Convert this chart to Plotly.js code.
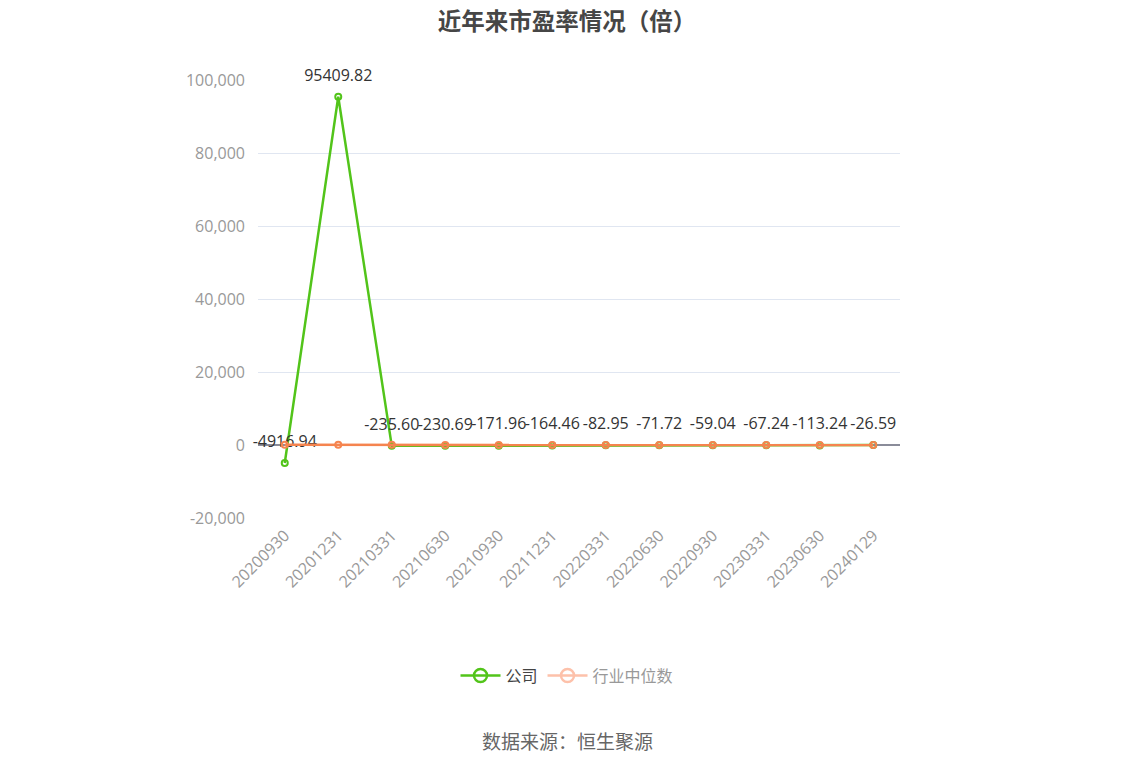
<!DOCTYPE html>
<html>
<head>
<meta charset="utf-8">
<script src="https://cdn.plot.ly/plotly-3.0.1.min.js"></script>
<style>
  html, body { margin: 0; padding: 0; background: #fff; }
  #chart { width: 1134px; height: 766px; }
</style>
</head>
<body>
<div id="chart"></div>
<script>
// dates of each report, company PE and industry median PE
const dates = ['20200930', '20201231', '20210331', '20210630', '20210930', '20211231',
               '20220331', '20220630', '20220930', '20230331', '20230630', '20240129'];
const companyPE = [-4916.94, 95409.82, -235.60, -230.69, -171.96, -164.46,
                   -82.95, -71.72, -59.04, -67.24, -113.24, -26.59];
// industry median is too small to read at this scale, estimated
const industryPE = [38.5, 45.2, 36.8, 33.1, 30.4, 29.7, 26.9, 24.3, 22.8, 24.1, 21.6, 19.8];

const yTicks = [-20000, 0, 20000, 40000, 60000, 80000, 100000];

const green = '#52C41A';
const orange = '#F5844F';
const fontFam = '"Open Sans", "Noto Sans CJK SC", sans-serif';
const cjk = '"Noto Sans CJK SC", sans-serif';
// page centre expressed in plot-area fraction (plot spans 258..900 px)
const midX = (567 - 258) / 642;

const traces = [
    {
        x: dates, y: companyPE,
        type: 'scatter', mode: 'lines+markers',
        line: { color: green, width: 2.5 },
        marker: { symbol: 'circle-open', size: 6, color: green, line: { width: 2 } },
        showlegend: false,
        hoverinfo: 'x+y'
    },
    // value labels, invisible bigger markers push text a bit higher
    {
        x: dates, y: companyPE,
        type: 'scatter', mode: 'markers+text',
        marker: { size: 18, color: 'rgba(0,0,0,0)' },
        text: companyPE.map(v => v.toFixed(2)),
        textposition: 'top center',
        textfont: { size: 16, color: '#333', family: fontFam },
        cliponaxis: false,
        showlegend: false,
        hoverinfo: 'skip'
    },
    {
        x: dates, y: industryPE,
        type: 'scatter', mode: 'lines+markers',
        line: { color: orange, width: 2.5 },
        marker: { symbol: 'circle-open', size: 6, color: orange, line: { width: 2 } },
        showlegend: false,
        hoverinfo: 'x+y'
    },
    // legend entries
    {
        x: [dates[0]], y: [null],
        type: 'scatter', mode: 'lines+markers',
        line: { color: green, width: 2.5 },
        marker: { symbol: 'circle-open', size: 13, color: green, line: { width: 2.5 } },
        name: '<span style="color:#444">公司</span>'
    },
    {
        x: [dates[0]], y: [null],
        type: 'scatter', mode: 'lines+markers',
        line: { color: '#FDC1AA', width: 2.5 },
        marker: { symbol: 'circle-open', size: 13, color: '#FDC1AA', line: { width: 2.5 } },
        name: '<span style="color:#999">行业中位数</span>'
    }
];

const layout = {
    width: 1134,
    height: 766,
    paper_bgcolor: '#fff',
    plot_bgcolor: '#fff',
    margin: { t: 80, b: 248, l: 258, r: 234 },
    font: { family: fontFam },
    title: {
        text: '<b>近年来市盈率情况（倍）</b>',
        x: 0.5, xanchor: 'center',
        y: 0.972, yanchor: 'middle',
        font: { size: 23.5, color: '#464646', family: cjk }
    },
    xaxis: {
        type: 'category',
        range: [-0.5, 11.5],
        tickangle: -45,
        tickfont: { size: 16, color: '#999' },
        showgrid: false,
        showline: false,
        zeroline: false,
        ticks: '',
        ticklabelstandoff: 4,
        fixedrange: true
    },
    yaxis: {
        range: [-20000, 100000],
        tickvals: yTicks,
        ticktext: yTicks.map(v => v.toLocaleString('en-US')),
        tickfont: { size: 16, color: '#999' },
        gridcolor: '#E0E6F1',
        gridwidth: 1,
        zeroline: true,
        zerolinecolor: '#8A8C99',
        zerolinewidth: 1.5,
        showline: false,
        ticks: '',
        ticklabelstandoff: 12,
        fixedrange: true
    },
    legend: {
        orientation: 'h',
        x: midX, xanchor: 'center',
        y: -0.36, yanchor: 'middle',
        font: { size: 16, family: cjk },
        itemwidth: 40
    },
    annotations: [
        {
            text: '数据来源：恒生聚源',
            xref: 'paper', yref: 'paper',
            x: midX, xanchor: 'center',
            y: -0.508, yanchor: 'middle',
            showarrow: false,
            font: { size: 19, color: '#666', family: cjk }
        }
    ]
};

Plotly.newPlot('chart', traces, layout, { displayModeBar: false, staticPlot: true });
</script>
</body>
</html>
